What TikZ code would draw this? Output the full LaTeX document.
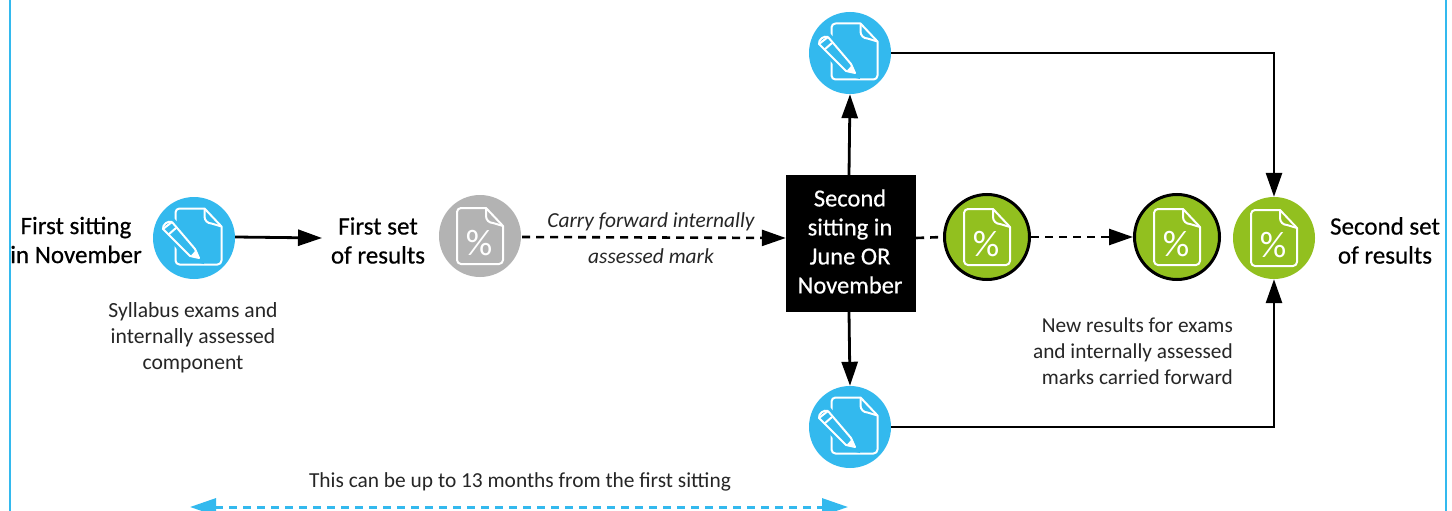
\documentclass[tikz,border=0pt]{standalone}
\usepackage{fontspec}
\setmainfont{Carlito}[AutoFakeBold=0.5]
\usetikzlibrary{arrows.meta,calc}
\definecolor{cblue}{HTML}{33B9EE}
\definecolor{cgreen}{HTML}{92C01F}
\definecolor{cgray}{HTML}{B3B3B3}
\tikzset{
  disc/.style={circle,minimum size=82pt,inner sep=0pt,fill=#1},
  ringed/.style={circle,minimum size=85pt,inner sep=0pt,fill=cgreen,draw=black,line width=3pt},
  head/.style={font=\fontsize{25}{29}\selectfont\bfseries,align=center,text=black,inner sep=0pt},
  note/.style={font=\fontsize{21.6}{26}\selectfont,align=center,text=black!85,inner sep=0pt},
  flow/.style={line width=2.8pt,-{Triangle[length=24pt,width=16pt]}},
  dflow/.style={line width=2.6pt,dash pattern=on 8pt off 6pt,-{Triangle[length=24pt,width=16pt]}},
  pics/docshape/.style={code={
    \draw[white,line width=2pt,line join=round]
      (-23,-24) to[out=90,in=180] (-19,-28) -- (6,-28) -- (23,-10) -- (23,24)
      to[out=-90,in=0] (19,28) -- (-19,28) to[out=180,in=-90] (-23,24) -- cycle;
    \draw[white,line width=2pt,line join=round] (6,-28) -- (6,-20) to[out=-90,in=180] (13,-13) -- (23,-10);
  }},
  pics/pct/.style={code={
    \pic {docshape};
    \node[text=white,inner sep=0pt,font=\fontsize{37}{37}\selectfont] at (-1,7) {\%};
  }},
  pics/pen/.style={code={
    \pic at (4.5,-1.5) {docshape};
    \fill[cblue] (-36,-12) -- (-22,-22) -- (6,10) -- (10,26) -- (-8,22) -- cycle;
    \draw[white,line width=2pt,line join=round] (-31,-9) -- (-22,-16) -- (1,11) -- (5,20) -- (-4,18) -- cycle;
    \draw[white,line width=2pt] (-31,-9) to[bend left=60] (-22,-16);
    \draw[white,line width=2pt] (-26,-3) -- (-18,-10);
    \fill[white] (5,20) -- (-3,17.5) -- (2,12) -- cycle;
  }},
}
\begin{document}
\begin{tikzpicture}[x=1pt,y=-1pt]
\useasboundingbox (0,0) rectangle (1452,511);
\fill[white] (0,0) rectangle (1452,511);
\draw[cblue,line width=2pt] (10,-5) -- (10,516);
\draw[cblue,line width=2pt] (1446,-5) -- (1446,516);

\node[disc=cblue] (w1) at (194,238) {};
\node[disc=cgray] (p1) at (480,236) {};
\node[ringed] (g1) at (987,237) {};
\node[ringed] (g2) at (1177,237) {};
\node[disc=cgreen] (g3) at (1274,238) {};
\node[disc=cblue] (wt) at (850,53) {};
\node[disc=cblue] (wb) at (850,427) {};
\pic at (w1) {pen};
\pic at (wt) {pen};
\pic at (wb) {pen};
\pic at (p1) {pct};
\pic at (g1) {pct};
\pic at (g2) {pct};
\pic at (g3) {pct};

\node[fill=black,minimum width=130pt,minimum height=137pt,inner sep=0pt,text=white,
  font=\fontsize{24.5}{29}\selectfont\bfseries,align=center,text depth=0pt] (box) at (851,243.5) {};
\node[text=white,font=\fontsize{24.5}{29}\selectfont\bfseries,align=center,inner sep=0pt] (boxt) at (850,241.5) {Second\\sitting in\\June OR\\November};

\node[head] (t1) at (76,240) {First sitting\\in November};
\node[head] (t2) at (378,240.5) {First set\\of results};
\node[head] (t3) at (1385,240.5) {Second set\\of results};
\node[note] (n1) at (193,338) {Syllabus exams and\\internally assessed\\component};
\node[note,font=\fontsize{21.3}{26}\selectfont,align=right,anchor=east] (n2) at (1233,351) {New results for exams\\and internally assessed\\marks carried forward};
\node[note,font=\fontsize{21.4}{36}\selectfont\itshape] (n3) at (651,238) {Carry forward internally\\assessed mark};
\node[note,font=\fontsize{21.4}{26}\selectfont] (n4) at (520,482) {This can be up to 13 months from the first sitting};

\coordinate (c1) at (322,238);
\draw[flow] (w1.east) ++(0,-1) -- (c1);
\draw[dflow] (p1.east) ++(1,1) -- (box.west |- 0,238);
\draw[dflow,-] (box.east |- 0,238) -- (g1.west);
\draw[dflow] (g1.east) -- (g2.west);
\draw[flow] (box.north -| 849,0) -- (wt.south);
\draw[flow] (box.south -| 849,0) -- (wb.north);
\draw[flow] (wt.east) -- (1274,53) -- (g3.north);
\draw[flow] (wb.east) -- (1274,427) -- (g3.south);
\coordinate (a1) at (190,507);
\coordinate (a2) at (848,507);
\draw[cblue,line width=3pt,dash pattern=on 8pt off 6pt,{Triangle[length=26pt,width=17pt]}-{Triangle[length=26pt,width=17pt]}] (a1) -- (a2);
\end{tikzpicture}
\end{document}
